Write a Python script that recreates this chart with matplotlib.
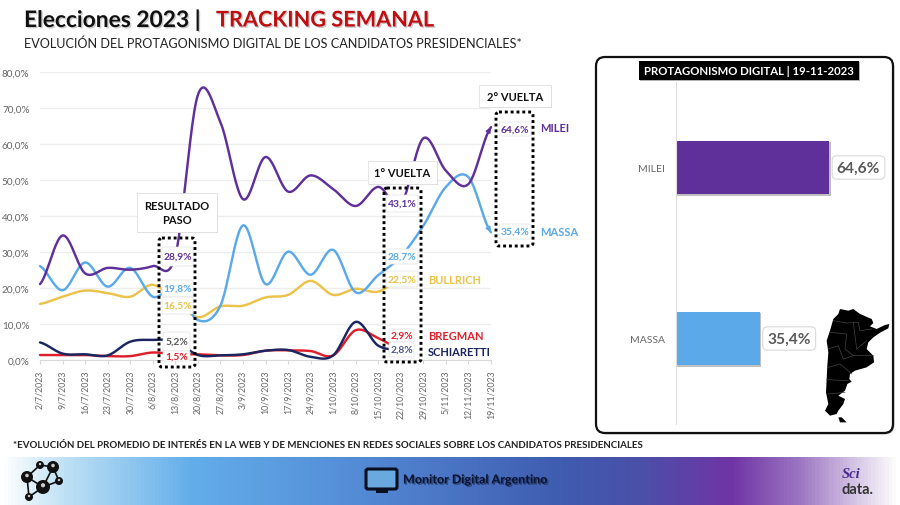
import numpy as np
import matplotlib
matplotlib.use("Agg")
import matplotlib.pyplot as plt
import matplotlib.patheffects as pe
from matplotlib.colors import LinearSegmentedColormap
from matplotlib.patches import FancyBboxPatch, Polygon, Circle, Rectangle

plt.rcParams['font.family'] = ['Lato', 'DejaVu Sans']

dates = ['2/7/2023','9/7/2023','16/7/2023','23/7/2023','30/7/2023','6/8/2023','13/8/2023',
         '20/8/2023','27/8/2023','3/9/2023','10/9/2023','17/9/2023','24/9/2023','1/10/2023',
         '8/10/2023','15/10/2023','22/10/2023','29/10/2023','5/11/2023','12/11/2023','19/11/2023']
milei = [21.0,34.5,24.0,25.5,25.0,26.0,28.9,73.5,66.0,44.6,56.3,46.7,51.2,47.4,42.7,48.0,43.1,61.5,52.5,48.8,64.6]
massa = [26.0,19.3,27.0,20.3,25.5,17.5,19.8,11.0,15.0,37.3,21.0,30.0,23.6,30.5,18.7,23.5,28.7,37.2,48.0,50.7,35.4]
bullrich = [15.5,17.5,19.2,18.5,17.5,20.8,16.5,11.8,14.8,15.0,17.3,18.0,21.9,18.0,19.7,18.9,22.5]
bregman = [1.3,1.3,1.3,1.0,1.0,2.0,1.5,1.5,1.2,1.3,2.5,2.6,2.4,1.2,8.2,6.0,2.9]
schiaretti = [4.8,1.7,1.5,1.2,5.0,5.5,5.2,1.3,1.2,1.5,2.5,2.7,0.8,1.2,10.5,3.9,2.8]
bar_names = ['MILEI','MASSA']
bar_values = [64.6,35.4]
yticks = [0,10,20,30,40,50,60,70,80]

PURPLE='#60309A'; BLUE='#5BA9E8'; YELLOW='#EBC24A'; RED='#DE1F2B'; NAVY='#1B2560'
W,H=900,506
fig=plt.figure(figsize=(9,5.06),dpi=100,facecolor='white')

def axpx(x0,y0,x1,y1,z):
    a=fig.add_axes([x0/W,1-y1/H,(x1-x0)/W,(y1-y0)/H],zorder=z)
    a.patch.set_alpha(0)
    return a

def smooth(y):
    # Catmull-Rom rendering of the weekly values, as a smoothed spreadsheet line
    y=np.asarray(y,float); n=len(y)
    p=np.concatenate([[y[0]],y,[y[-1]]])
    xs=[];ys=[]
    for i in range(n-1):
        t=np.linspace(0,1,24,endpoint=False)
        a,b,c,d=p[i],p[i+1],p[i+2],p[i+3]
        ys.append(0.5*(2*b+(c-a)*t+(2*a-5*b+4*c-d)*t**2+(3*b-a-3*c+d)*t**3))
        xs.append(i+t)
    return np.concatenate(xs+[[n-1]]),np.concatenate(ys+[[y[-1]]])

# background layer
bg=axpx(0,0,W,H,0); bg.set_xlim(0,W); bg.set_ylim(H,0); bg.axis('off')
cmap=LinearSegmentedColormap.from_list('band',[(0,'#FFFFFF'),(0.07,'#BFE1F6'),(0.21,'#63AEEA'),(0.38,'#558FD8'),
    (0.5,'#4A74C4'),(0.62,'#3F5DB0'),(0.71,'#4A50A8'),(0.815,'#7035A5'),(0.89,'#9C75C2'),(0.95,'#D3C2E4'),(1,'#FFFFFF')])
bg.imshow(np.linspace(0,1,900).reshape(1,-1),extent=(0,W,506,458),cmap=cmap,aspect='auto',zorder=0)
bg.set_xlim(0,W); bg.set_ylim(H,0)
panel=FancyBboxPatch((596,58),297,376,boxstyle='round,pad=0,rounding_size=9',fc='white',ec='#111111',lw=1.6,zorder=1,
    path_effects=[pe.SimplePatchShadow(offset=(1,-1),alpha=.3,shadow_rgbFace='k'),pe.Normal()])
bg.add_patch(panel)

shadow=[pe.withSimplePatchShadow(offset=(1,-1),alpha=.2,shadow_rgbFace='k')]
bg.text(24,21,'Elecciones 2023 |',fontsize=16.4,fontweight='bold',color='#111111',va='center',ha='left',path_effects=shadow)
bg.text(216,21,'TRACKING SEMANAL',fontsize=15.6,fontweight='bold',color='#C00D10',va='center',ha='left',path_effects=shadow)
bg.text(24,43.5,'EVOLUCIÓN DEL PROTAGONISMO DIGITAL DE LOS CANDIDATOS PRESIDENCIALES*',fontsize=9.1,color='#222222',va='center',ha='left')
bg.text(13,445.5,'*EVOLUCIÓN DEL PROMEDIO DE INTERÉS EN LA WEB Y DE MENCIONES EN REDES SOCIALES SOBRE LOS CANDIDATOS PRESIDENCIALES',
        fontsize=7.0,fontweight='bold',color='#222222',va='center',ha='left')

# molecule logo
nodes=[(27,478,6),(40,466,4),(53,468,6),(59,482,4),(43,488,7),(29,498,4)]
for i,j in [(0,1),(1,2),(2,3),(3,4),(2,4),(0,4),(0,5),(4,5)]:
    bg.plot([nodes[i][0],nodes[j][0]],[nodes[i][1],nodes[j][1]],color='#111111',lw=1.2,zorder=2)
for x,y,r in nodes:
    bg.add_patch(Circle((x,y),r,fc='#111111',ec='none',zorder=3))
    bg.add_patch(Circle((x,y-r*.25),r*.3,fc='#CCCCCC',ec='none',zorder=4))

# monitor logo
bg.add_patch(Rectangle((376,489),12,5,fc='#0A0F20',ec='none',zorder=2))
bg.add_patch(FancyBboxPatch((366,470),31,20,boxstyle='round,pad=0,rounding_size=2',fc='#6AA9E0',ec='#0A0F20',lw=2.2,zorder=3))
bg.text(403,481,'Monitor Digital Argentino',fontsize=8.95,fontweight='black',color='#0B1535',va='center',ha='left',
        path_effects=[pe.withSimplePatchShadow(offset=(1,-1),alpha=.35,shadow_rgbFace='k')])
bg.text(842,475,'Sci',fontsize=10.5,family='Liberation Serif',fontstyle='italic',fontweight='bold',color='#4A2A8A',va='center',ha='left')
bg.text(842,490,'data.',fontsize=10.5,fontweight='bold',color='#333333',va='center',ha='left')

# line chart
ax=axpx(40,72.7,491,360.7,1)
ax.set_xlim(0,20); ax.set_ylim(0,80)
ax.set_yticks(yticks); ax.set_yticklabels([f'{v:.1f}%'.replace('.',',') for v in yticks],fontsize=7.2,color='#666666')
ax.set_xticks(range(len(dates))); ax.set_xticklabels(dates,rotation=90,fontsize=6.3,color='#666666')
ax.tick_params(axis='y',length=0,pad=7.5)
ax.tick_params(axis='x',length=3,color='#D9D9D9',pad=4)
ax.grid(axis='y',color='#EDEDED',lw=1); ax.set_axisbelow(True)
for s in ['top','right','left']: ax.spines[s].set_visible(False)
ax.spines['bottom'].set_color('#D9D9D9')
for vals,c in [(bullrich,YELLOW),(massa,BLUE),(milei,PURPLE),(bregman,RED),(schiaretti,NAVY)]:
    xs,ys=smooth(vals)
    ax.plot(xs,ys,color=c,lw=1.75,clip_on=False,solid_capstyle='round')
    ax.annotate('',xy=(xs[-1],ys[-1]),xytext=(xs[-4],ys[-4]),annotation_clip=False,
                arrowprops=dict(arrowstyle='-|>',color=c,lw=1.2,mutation_scale=7,shrinkA=0,shrinkB=0))

# bar chart
bx=axpx(675.7,83,890,425,1)
bx.set_xlim(0,90.2); bx.set_ylim(1.5,-0.5)
pos=np.arange(len(bar_names))
bars=bx.barh(pos,bar_values,height=0.314,color=[PURPLE,BLUE])
for b in bars:
    b.set_path_effects([pe.SimplePatchShadow(offset=(1,-1),alpha=.25,shadow_rgbFace='k'),pe.Normal()])
bx.set_yticks(pos); bx.set_yticklabels(bar_names,fontsize=7.5,color='#666666')
bx.set_xticks([]); bx.tick_params(axis='y',length=0,pad=8)
for s in ['top','right','bottom']: bx.spines[s].set_visible(False)
bx.spines['left'].set_color('#DDDDDD')
for p,v in zip(pos,bar_values):
    bx.annotate(f'{v:.1f}%'.replace('.',','),xy=(v,p),xytext=(5.5,0),textcoords='offset points',va='center',ha='left',
                fontsize=11.2,fontweight='bold',color='#595959',
                bbox=dict(boxstyle='round,pad=0.3',fc='white',ec='#D9D9D9',lw=.8))

# overlay
ov=axpx(0,0,W,H,2); ov.set_xlim(0,W); ov.set_ylim(H,0); ov.axis('off')
ov.add_patch(Rectangle((639,62),220,19,fc='black',ec='none',path_effects=[pe.SimplePatchShadow(offset=(1,-1),alpha=.3,shadow_rgbFace='k'),pe.Normal()]))
ov.text(749,71.5,'PROTAGONISMO DIGITAL | 19-11-2023',fontsize=8.2,fontweight='bold',color='white',ha='center',va='center')

map_outline=[(90,30),(115,35),(130,30),(150,45),(185,60),(190,72),(180,82),(200,90),(225,78),(238,75),(235,88),(212,100),
    (190,115),(175,130),(170,150),(190,170),(192,190),(170,205),(135,215),(120,225),(118,240),(125,248),(112,255),(105,275),
    (85,290),(105,300),(100,315),(85,335),(80,345),(60,350),(45,335),(55,315),(48,280),(50,240),(52,200),(55,160),(50,125),
    (60,95),(70,60),(85,45)]
fuego=[(85,355),(95,355),(110,370),(90,370)]
tomap=lambda pts:[(810+x/3,300+y/3) for x,y in pts]
ov.add_patch(Polygon(tomap(map_outline),closed=True,fc='black',ec='none'))
ov.add_patch(Polygon(tomap(fuego),closed=True,fc='black',ec='none'))
for seg in [[(70,65),(110,72),(145,70),(150,95),(185,90)],[(60,100),(110,105),(105,150),(130,170),(190,170)],
            [(55,150),(85,140),(100,180),(130,170)],[(55,205),(90,195),(125,225)],[(50,242),(115,245)],[(55,285),(105,280)],[(130,70),(140,150),(170,125)]]:
    ov.plot(*zip(*tomap(seg)),color='#444444',lw=.5)

def callout(x0,y0,x1,y1,txt):
    ov.add_patch(Rectangle((x0,y0),x1-x0,y1-y0,fc='white',ec='#E0E0E0',lw=.6,zorder=5,
        path_effects=[pe.SimplePatchShadow(offset=(1,-1),alpha=.25,shadow_rgbFace='k'),pe.Normal()]))
    ov.text((x0+x1)/2,(y0+y1)/2,txt,fontsize=8,fontweight='bold',color='#111111',ha='center',va='center',zorder=6,linespacing=1.3)

def lab(x0,y0,x1,y1,txt,c):
    ov.add_patch(FancyBboxPatch((x0,y0),x1-x0,y1-y0,boxstyle='round,pad=0,rounding_size=1.5',fc='white',ec='#E2E2E2',lw=.5,zorder=3))
    ov.text((x0+x1)/2,(y0+y1)/2,txt,fontsize=7.4,fontweight='bold',color=c,ha='center',va='center',zorder=3.5)

def fmt(v): return f'{v:.1f}%'.replace('.',',')
i13=dates.index('13/8/2023'); i22=dates.index('22/10/2023')
for box,v,c in [((162,248,193,267),milei[i13],PURPLE),((162,281,193,298),massa[i13],BLUE),((162,298,193,315),bullrich[i13],YELLOW),
                ((163,333,190,352),schiaretti[i13],'#595959'),((163,352,190,362),bregman[i13],RED)]:
    lab(*box,fmt(v),c)
for box,v,c in [((386,196,418,213),milei[i22],PURPLE),((386,250,418,265),massa[i22],BLUE),((386,272,418,288),bullrich[i22],YELLOW),
                ((389,330,414,343),bregman[i22],RED),((389,343,414,358),schiaretti[i22],'#4A5590')]:
    lab(*box,fmt(v),c)
for box,v,c in [((499,123,531,137),milei[-1],PURPLE),((499,225,531,240),massa[-1],BLUE)]:
    lab(*box,fmt(v),c)

for x0,y0,x1,y1 in [(159,239,195,368),(384,189,421,363),(496,113,533,247)]:
    ov.add_patch(FancyBboxPatch((x0,y0),x1-x0,y1-y0,boxstyle='round,pad=0,rounding_size=3',fc='none',ec='black',lw=2.1,
                                linestyle=(0,(1,1)),zorder=4))
callout(137,194,217,233,'RESULTADO\nPASO')
callout(368,162,437,185,'1° VUELTA')
callout(479,86,551,108,'2° VUELTA')
for x,y,t,c in [(540,128,'MILEI',PURPLE),(540,233,'MASSA',BLUE),(428,280,'BULLRICH',YELLOW),(428,337,'BREGMAN',RED),(428,352,'SCHIARETTI',NAVY)]:
    ov.text(x,y,t,fontsize=8,fontweight='bold',color=c,ha='left',va='center')

fig.savefig('out.png',dpi=100)
